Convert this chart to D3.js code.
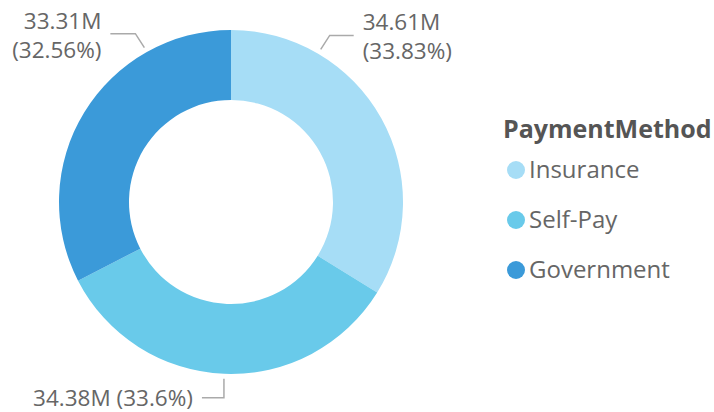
<!DOCTYPE html>
<html>
<head>
<meta charset="utf-8">
<script src="https://cdn.jsdelivr.net/npm/d3@7"></script>
<style>
  body { margin: 0; background: #fff; }
  svg { display: block; font-family: "Open Sans", "Noto Sans", sans-serif; }
  .lbl { fill: #666; font-size: 22.5px; }
  .leader { fill: none; stroke: #aaa; stroke-width: 1.5; }
  .legend-title { fill: #555; font-size: 25px; font-weight: bold; }
  .legend-text { fill: #666; font-size: 24px; }
</style>
</head>
<body>
<div id="chart"></div>
<script>
// chart data
var categories = ["Insurance", "Self-Pay", "Government"];
var values = [34.61, 34.38, 33.31];          // millions
var percents = ["33.83%", "33.6%", "32.56%"];
var colors = ["#a6ddf6", "#69caea", "#3b9ad9"];
var legendTitle = "PaymentMethod";

var width = 714, height = 412;
var cx = 231, cy = 202;
var outerR = 172, innerR = 102;

var svg = d3.select("#chart").append("svg")
    .attr("width", width)
    .attr("height", height);

var color = d3.scaleOrdinal().domain(categories).range(colors);

var pie = d3.pie().sort(null).value(function(d) { return d.value; });
var arc = d3.arc().innerRadius(innerR).outerRadius(outerR);

var rows = categories.map(function(c, i) {
    return { name: c, value: values[i], pct: percents[i] };
});
var slices = pie(rows);

var g = svg.append("g").attr("transform", "translate(" + cx + "," + cy + ")");

g.selectAll("path.slice")
    .data(slices)
    .enter()
    .append("path")
    .attr("class", "slice")
    .attr("d", arc)
    .attr("fill", function(d) { return color(d.data.name); });

// label layout: where the leader touches the slice (fraction of slice), elbow offsets, text side
var labelLayout = {
    "Insurance":  { t: 0.25, ex: 9,  ey: -14, len: 24,  anchor: "start", lines: 2 },
    "Self-Pay":   { t: 0.5,  ex: 0,  ey: 19,  len: -22, anchor: "end",   lines: 1 },
    "Government": { t: 0.75, ex: -9, ey: -14, len: -25, anchor: "end",   lines: 2 }
};

function pointAt(angle, r) {
    return [Math.sin(angle) * r, -Math.cos(angle) * r];
}

slices.forEach(function(s) {
    var L = labelLayout[s.data.name];
    var a = s.startAngle + (s.endAngle - s.startAngle) * L.t;
    var p0 = pointAt(a, outerR + 5);
    var p1 = [p0[0] + L.ex, p0[1] + L.ey];
    var p2 = [p1[0] + L.len, p1[1]];

    g.append("path")
        .attr("class", "leader")
        .attr("d", d3.line()([p0, p1, p2]));

    var tx = p2[0] + (L.anchor === "start" ? 9 : -9);
    var valueText = d3.format(".2f")(s.data.value) + "M";
    var t = g.append("text")
        .attr("class", "lbl")
        .attr("text-anchor", L.anchor)
        .attr("x", tx);
    if (L.lines === 2) {
        t.append("tspan").attr("x", tx).attr("y", p2[1] - 13).attr("dy", "0.35em").text(valueText);
        t.append("tspan").attr("x", tx).attr("y", p2[1] + 16).attr("dy", "0.35em").text("(" + s.data.pct + ")");
    } else {
        t.attr("y", p2[1]).attr("dy", "0.35em").text(valueText + " (" + s.data.pct + ")");
    }
});

// legend
var legend = svg.append("g").attr("transform", "translate(503,0)");
legend.append("text")
    .attr("class", "legend-title")
    .attr("x", 0)
    .attr("y", 129)
    .attr("dy", "0.35em")
    .text(legendTitle);

var ly = d3.scalePoint().domain(categories).range([170, 270]);
var items = legend.selectAll("g.item")
    .data(categories)
    .enter()
    .append("g")
    .attr("class", "item")
    .attr("transform", function(d) { return "translate(0," + ly(d) + ")"; });
items.append("circle")
    .attr("cx", 13)
    .attr("cy", 0)
    .attr("r", 9)
    .attr("fill", function(d) { return color(d); });
items.append("text")
    .attr("class", "legend-text")
    .attr("x", 26)
    .attr("y", 0)
    .attr("dy", "0.35em")
    .text(function(d) { return d; });
</script>
</body>
</html>
